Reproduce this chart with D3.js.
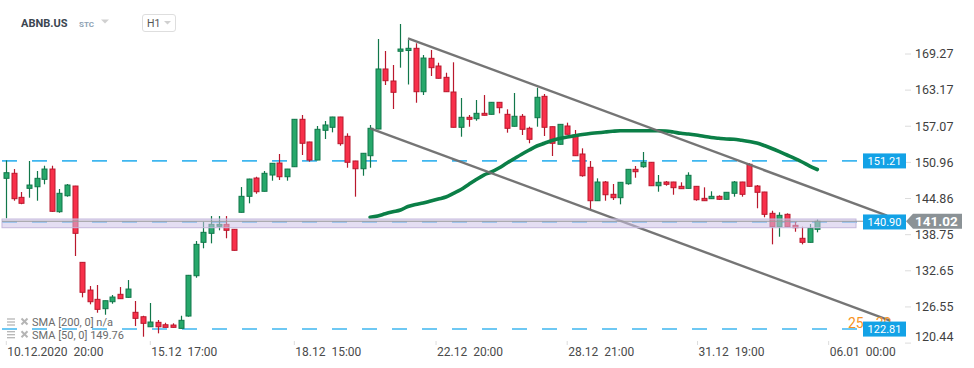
<!DOCTYPE html>
<html>
<head>
<meta charset="utf-8">
<script src="https://cdn.jsdelivr.net/npm/d3@7"></script>
<style>
  html, body { margin: 0; padding: 0; background: #fff; }
  svg { display: block; font-family: Roboto, "Noto Sans", sans-serif; }
</style>
</head>
<body>
<svg id="chart" width="974" height="368"></svg>
<script>
// ---------------- DATA ----------------
const symbol = "ABNB.US";
const symbolType = "STC";
const timeframe = "H1";

const openValues = [148.27,149.12,145.06,146.58,146.85,148.10,149.84,142.63,145.33,146.97,
134.08,129.40,127.83,126.25,127.43,128.68,128.17,125.64,124.89,123.20,
123.95,123.54,123.49,122.93,125.01,131.82,137.46,138.98,140.17,140.50,
139.66,142.53,145.23,148.32,146.08,148.83,150.86,148.54,150.23,158.24,
154.41,151.36,156.38,156.89,158.63,155.37,151.20,149.89,152.09,156.60,
166.74,164.71,169.73,169.86,170.23,162.90,168.54,167.24,165.33,162.85,
156.89,158.58,158.34,159.25,159.08,161.11,159.08,157.06,158.75,156.72,
158.51,162.12,156.99,154.02,157.11,155.59,152.38,150.13,144.49,147.65,
145.57,145.00,147.36,149.79,150.23,150.98,147.02,147.65,147.65,146.92,
146.58,146.92,144.89,144.83,145.23,144.73,145.74,147.65,150.64,146.97,
145.96,142.36,140.10,142.19,140.33,138.14,137.46,139.66];
const highValues = [151.30,149.84,145.96,151.20,149.51,150.40,150.40,146.47,147.31,147.00,
134.10,130.08,130.25,127.60,128.56,129.91,131.09,127.55,125.06,127.21,
124.34,123.88,123.78,125.06,131.95,137.68,140.94,141.90,141.90,141.90,
139.70,146.80,148.20,148.54,149.51,150.85,152.38,149.86,158.28,158.97,
154.45,157.11,157.95,158.66,158.66,155.87,151.23,152.53,157.28,171.80,
169.78,167.41,174.34,171.63,171.08,169.10,169.95,167.80,166.11,167.87,
161.84,158.97,161.50,162.34,161.14,161.14,159.93,162.68,159.13,156.99,
163.58,162.51,157.02,157.42,157.67,156.43,153.34,151.20,148.27,147.82,
147.31,147.63,149.82,150.35,152.72,151.01,148.83,147.82,147.68,147.60,
149.29,146.95,146.75,146.08,145.40,145.94,147.82,147.68,150.81,147.14,
145.99,142.80,142.53,142.36,140.89,140.10,140.55,141.35];
const lowValues = [141.52,144.49,143.90,145.00,144.49,147.26,142.60,142.46,145.17,135.15,
128.17,126.99,125.57,125.23,127.09,127.94,128.10,123.32,121.52,123.20,
122.09,123.10,123.05,122.90,124.90,131.48,136.45,137.29,139.49,138.14,
136.05,142.50,144.05,145.67,146.05,147.87,147.99,147.87,150.20,152.21,
151.08,151.33,154.91,156.04,153.78,150.06,145.17,148.71,150.06,156.57,
164.03,159.98,166.96,164.12,161.04,162.34,165.55,165.14,162.87,156.86,
155.30,156.99,158.00,158.90,159.05,159.25,155.98,157.03,155.59,154.19,
156.99,155.42,152.04,153.99,155.68,152.06,148.54,142.92,144.46,144.49,
144.61,143.88,147.19,148.37,150.06,146.99,146.01,147.02,145.50,146.49,
146.55,144.49,144.46,144.80,144.61,144.70,145.17,145.17,146.89,143.21,
141.69,137.12,138.41,140.07,139.25,137.12,137.43,139.15];
const closeValues = [149.22,144.83,144.05,147.14,148.27,149.84,142.70,145.74,147.14,138.98,
129.02,127.43,126.14,127.60,128.22,127.94,129.57,124.62,123.78,124.00,
123.20,123.10,123.10,124.29,131.89,137.12,139.15,140.50,140.50,139.49,
136.11,145.23,148.15,146.01,149.12,150.81,148.54,149.84,158.24,154.19,
151.36,156.55,157.28,158.63,154.12,150.98,149.89,152.50,156.72,166.74,
164.76,162.80,170.11,170.23,162.90,168.59,166.96,165.17,162.90,156.89,
158.58,158.24,159.25,158.92,161.11,160.20,156.72,158.75,156.55,154.86,
161.96,156.89,154.19,157.39,155.71,152.09,148.71,144.49,147.65,145.50,
145.00,147.60,149.79,149.39,150.98,147.02,147.60,147.26,146.69,146.52,
148.78,144.66,144.49,145.23,144.73,145.91,147.65,145.57,146.92,145.91,
142.19,140.10,142.02,140.10,139.93,137.46,139.83,141.02];

// SMA(50) values, starting at candle index 48
const smaStart = 48;
const sma50Values = [141.69,141.91,142.28,142.61,142.92,143.51,143.85,144.10,144.44,144.78,
145.11,145.74,146.38,147.23,148.07,148.83,149.34,150.01,150.81,151.58,
152.34,153.05,153.73,154.19,154.66,155.00,155.25,155.47,155.67,155.84,
155.96,156.09,156.21,156.30,156.31,156.31,156.31,156.31,156.31,156.26,
156.09,155.87,155.76,155.59,155.37,155.17,155.03,154.91,154.86,154.69,
154.49,154.24,153.81,153.31,152.77,152.21,151.65,151.03,150.35,149.76];

const yTickValues = [169.27,163.17,157.07,150.96,144.86,138.75,132.65,126.55,120.44];
const xTickLabels = ["10.12.2020  20:00","15.12  17:00","18.12  15:00","22.12  20:00","28.12  21:00","31.12  19:00","06.01  00:00"];
const xTickIndex = [0, 19, 38, 56.7, 74, 91.2, 108.5];

const levelValues = [151.21, 140.90, 122.81];
const lastPrice = 141.02;
const bandTop = 141.40, bandBottom = 139.93;
// trend channel: [candle index, price]
const upperTrend = [[53, 171.92], [116.2, 141.97]];
const lowerTrend = [[48, 156.72], [116.6, 124.24]];

const legendLines = ["SMA [200, 0] n/a", "SMA [50, 0] 149.76"];
const countdown = ["25", "m", "30", "s"];

// ---------------- DRAW ----------------
const svg = d3.select("#chart");
const N = closeValues.length;
const x = d3.scaleLinear().domain([0, N - 1]).range([6.3, 817.3]);
const y = d3.scaleLinear().domain([120.44, 169.27]).range([343.1, 54]);

const candles = d3.range(N).map(i => ({i, o: openValues[i], h: highValues[i], l: lowValues[i], c: closeValues[i]}));

const UP_FILL = "#27a86b", UP_STROKE = "#11774a";
const DN_FILL = "#f8304a", DN_STROKE = "#b9182d";

// horizontal dashed levels
const plotLeft = 2, plotRight = 860;
svg.append("g").selectAll("line").data(levelValues).join("line")
  .attr("x1", plotLeft).attr("x2", plotRight)
  .attr("y1", d => y(d)).attr("y2", d => y(d))
  .attr("stroke", "#3fb6ef").attr("stroke-width", 1.6)
  .attr("stroke-dasharray", "15,15");

// candles
const cg = svg.append("g");
cg.selectAll("line.wick").data(candles).join("line")
  .attr("class", "wick")
  .attr("x1", d => Math.round(x(d.i)) + 0.5).attr("x2", d => Math.round(x(d.i)) + 0.5)
  .attr("y1", d => y(d.h)).attr("y2", d => y(d.l))
  .attr("stroke", d => d.c >= d.o ? UP_STROKE : DN_STROKE).attr("stroke-width", 1.2);
cg.selectAll("rect.body").data(candles).join("rect")
  .attr("class", "body")
  .attr("x", d => Math.round(x(d.i)) + 0.5 - 2.5)
  .attr("width", 5)
  .attr("y", d => y(Math.max(d.o, d.c)))
  .attr("height", d => Math.max(1.5, Math.abs(y(d.o) - y(d.c))))
  .attr("fill", d => d.c >= d.o ? UP_FILL : DN_FILL)
  .attr("stroke", d => d.c >= d.o ? UP_STROKE : DN_STROKE).attr("stroke-width", 1);

// SMA line
const smaLine = d3.line().x((d, k) => x(smaStart + k)).y(d => y(d)).curve(d3.curveMonotoneX);
svg.append("path").datum(sma50Values).attr("d", smaLine)
  .attr("fill", "none").attr("stroke", "#0b7f47").attr("stroke-width", 3.6)
  .attr("stroke-linecap", "round");

// trend lines
const tl = d3.line().x(d => x(d[0])).y(d => y(d[1]));
[upperTrend, lowerTrend].forEach(t => {
  svg.append("path").datum(t).attr("d", tl)
    .attr("fill", "none").attr("stroke", "#6e6e6e").attr("stroke-width", 2.4).attr("opacity", 0.95);
});

// highlight band
svg.append("rect")
  .attr("x", plotLeft).attr("width", 856 - plotLeft)
  .attr("y", y(bandTop)).attr("height", y(bandBottom) - y(bandTop))
  .attr("fill", "rgba(205,195,232,0.55)").attr("stroke", "#c4b8dc").attr("stroke-width", 1);

// last price line
svg.append("line").attr("x1", plotLeft).attr("x2", 906)
  .attr("y1", y(lastPrice)).attr("y2", y(lastPrice))
  .attr("stroke", "#9a9a9a").attr("stroke-width", 1.2);

// Y axis ticks and labels
const yAxis = svg.append("g");
yAxis.selectAll("line").data(yTickValues).join("line")
  .attr("x1", 905).attr("x2", 911)
  .attr("y1", d => y(d)).attr("y2", d => y(d))
  .attr("stroke", "#dcdcdc");
yAxis.selectAll("text").data(yTickValues).join("text")
  .attr("x", 915).attr("y", d => Math.min(y(d), 337))
  .attr("dy", "0.35em")
  .attr("font-size", 12.5).attr("fill", "#3f3f3f")
  .text(d => d.toFixed(2));

// X axis ticks and labels
const xAxis = svg.append("g");
xAxis.selectAll("line").data(xTickIndex).join("line")
  .attr("x1", d => x(d)).attr("x2", d => x(d))
  .attr("y1", 341).attr("y2", 345)
  .attr("stroke", "#dcdcdc");
xAxis.selectAll("text").data(xTickLabels).join("text")
  .attr("x", (d, k) => x(xTickIndex[k]) + 1).attr("y", 352)
  .attr("dy", "0.35em")
  .attr("font-size", 12).attr("fill", "#4a4a4a")
  .style("white-space", "pre")
  .text(d => d);

// countdown (behind the label)
const cd = svg.append("text").attr("x", 848).attr("y", 328).attr("fill", "#f7931e");
cd.append("tspan").attr("font-size", 14).text(countdown[0]);
cd.append("tspan").attr("font-size", 9).attr("dx", 2).text(countdown[1]);
cd.append("tspan").attr("font-size", 14).attr("dx", 2).text(countdown[2]);
cd.append("tspan").attr("font-size", 9).attr("dx", 1).text(countdown[3]);

// level labels
const lg = svg.append("g").selectAll("g").data(levelValues).join("g")
  .attr("transform", d => `translate(863,${y(d)})`);
lg.append("rect").attr("x", 0).attr("y", -7.5).attr("width", 43).attr("height", 15).attr("fill", "#13a2e6");
lg.append("text").attr("x", 21.5).attr("dy", "0.36em").attr("text-anchor", "middle")
  .attr("font-size", 11).attr("fill", "#fff").text(d => d.toFixed(2));

// last price label
const ly = y(lastPrice);
svg.append("path")
  .attr("d", `M906,${ly} L913,${ly - 7.5} L962,${ly - 7.5} L962,${ly + 7.5} L913,${ly + 7.5} Z`)
  .attr("fill", "#8b9296");
svg.append("text").attr("x", 915).attr("y", ly).attr("dy", "0.36em")
  .attr("font-size", 13.5).attr("font-weight", "bold").attr("fill", "#fff")
  .text(lastPrice.toFixed(2));

// legend (SMA)
const leg = svg.append("g");
legendLines.forEach((t, k) => {
  const yy = 322 + k * 12.7;
  const ic = leg.append("g").attr("fill", "none").attr("stroke", "#b5b5b5").attr("stroke-width", 1.3);
  [-3, 0, 3].forEach(o => ic.append("line").attr("x1", 7).attr("x2", 15).attr("y1", yy + o).attr("y2", yy + o));
  ic.append("line").attr("x1", 21.5).attr("x2", 27.5).attr("y1", yy - 3.5).attr("y2", yy + 2.5).attr("stroke-width", 2);
  ic.append("line").attr("x1", 27.5).attr("x2", 21.5).attr("y1", yy - 3.5).attr("y2", yy + 2.5).attr("stroke-width", 2);
  leg.append("text").attr("x", 32).attr("y", yy).attr("dy", "0.35em")
    .attr("font-size", 11).attr("fill", "#6b6b6b").style("white-space", "pre")
    .text(t);
});

// header
svg.append("text").attr("x", 21).attr("y", 23).attr("dy", "0.35em")
  .attr("font-size", 11).attr("font-weight", "bold").attr("fill", "#3b4651").text(symbol);
svg.append("text").attr("x", 79).attr("y", 24).attr("dy", "0.35em")
  .attr("font-size", 8).attr("font-weight", "bold").attr("fill", "#8ea2b4").text(symbolType);
svg.append("path").attr("d", "M101,19.5 L109,19.5 L105,23.5 Z").attr("fill", "#d0d0d0");
svg.append("rect").attr("x", 142.5).attr("y", 14.5).attr("width", 33).attr("height", 17).attr("rx", 2.5)
  .attr("fill", "#fff").attr("stroke", "#dedede");
svg.append("text").attr("x", 147).attr("y", 23).attr("dy", "0.35em")
  .attr("font-size", 10.5).attr("fill", "#555").text(timeframe);
svg.append("path").attr("d", "M164,21 L171,21 L167.5,24.5 Z").attr("fill", "#d0d0d0");
</script>
</body>
</html>
